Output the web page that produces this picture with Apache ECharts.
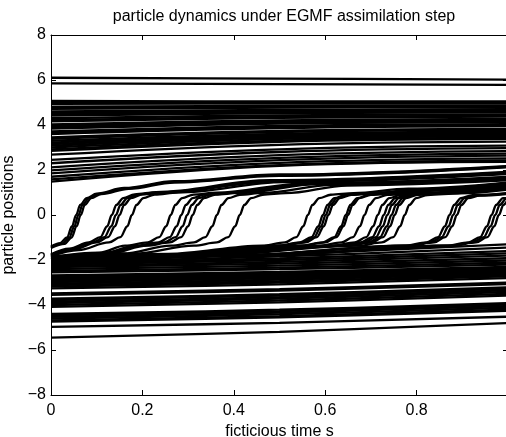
<!DOCTYPE html>
<html>
<head>
<meta charset="utf-8">
<script src="https://cdn.jsdelivr.net/npm/echarts@6/dist/echarts.min.js"></script>
<style>
html,body{margin:0;padding:0;background:#fff;}
#c{width:506px;height:437px;}
</style>
</head>
<body>
<div id="c"></div>
<script>
// ---- data ----
const titleText = 'particle dynamics under EGMF assimilation step';
const xName = 'ficticious time s';
const yName = 'particle positions';
const xTicks = [0, 0.2, 0.4, 0.6, 0.8];
const yTicks = [-8, -6, -4, -2, 0, 2, 4, 6, 8];

// times at which the slowly moving particles are sampled
const slowTimes = [0, 0.5, 1];

// top isolated particles [y(0), y(0.5), y(1)]
const topLines = [
  [6.10, 6.06, 6.02],
  [5.85, 5.82, 5.78]
];

// upper dense band [y(0), y(0.5), y(1)]
const upperBand = [
  [5.07,5.05,5.05],[5.00,5.00,5.00],[4.94,4.95,4.95],[4.82,4.85,4.86],
  [4.76,4.80,4.82],[4.72,4.77,4.79],[4.60,4.67,4.70],[4.55,4.63,4.66],
  [4.48,4.57,4.61],[4.42,4.52,4.56],[4.30,4.43,4.47],[4.22,4.36,4.41],
  [4.16,4.32,4.37],[4.03,4.21,4.27],[3.96,4.16,4.22],[3.90,4.10,4.17],
  [3.84,4.06,4.13],[3.72,3.96,4.04],[3.66,3.91,3.99],[3.60,3.86,3.95],
  [3.45,3.74,3.83],[3.38,3.68,3.78],[3.30,3.61,3.72],[3.22,3.55,3.66],
  [3.15,3.50,3.61],[3.08,3.44,3.56],[3.00,3.38,3.50],[2.92,3.31,3.44],
  [2.85,3.25,3.38],[2.68,3.12,3.26],[2.45,2.92,3.08],[2.30,2.80,2.97],
  [2.12,2.66,2.84],[1.98,2.54,2.73],[1.85,2.44,2.64],[1.70,2.32,2.52],
  [1.58,2.22,2.43],[1.48,2.18,2.36]
];

// lower band [y(0), y(0.5), y(1)]
const lowerBand = [
  [-2.05,-1.75,-1.30],[-2.10,-1.84,-1.45],[-2.15,-1.93,-1.60],[-2.20,-2.00,-1.70],
  [-2.26,-2.08,-1.80],[-2.32,-2.16,-1.92],[-2.40,-2.25,-2.02],[-2.48,-2.34,-2.12],
  [-2.55,-2.41,-2.20],[-2.68,-2.53,-2.30],[-2.74,-2.59,-2.36],[-2.80,-2.65,-2.42],
  [-2.86,-2.70,-2.46],[-2.92,-2.75,-2.50],[-2.98,-2.81,-2.55],[-3.05,-2.87,-2.60],
  [-3.12,-2.94,-2.66],[-3.18,-3.00,-2.72],[-3.26,-3.08,-2.80],[-3.48,-3.29,-3.00],
  [-3.55,-3.36,-3.07],[-3.72,-3.52,-3.22],[-3.78,-3.58,-3.28],[-3.85,-3.65,-3.35],
  [-3.92,-3.72,-3.42],[-4.00,-3.80,-3.50],[-4.08,-3.88,-3.58],[-4.40,-4.21,-3.92],
  [-4.46,-4.27,-3.98],[-4.53,-4.34,-4.05],[-4.60,-4.41,-4.12],[-4.68,-4.49,-4.20],
  [-4.74,-4.55,-4.26],[-4.97,-4.79,-4.52],[-5.45,-5.19,-4.80]
];

// particles that jump from the lower to the upper region: [t, y] points
const jumpCurves = [
  [[0,-1.40],[0.02,-1.25],[0.035,-1.0],[0.046,-0.5],[0.055,0],[0.064,0.45],[0.078,0.75],[0.1,0.95],[0.16,1.2],[0.27,1.5],[0.5,1.8],[1,2.18]],
  [[0,-1.44],[0.025,-1.27],[0.04,-1.0],[0.051,-0.5],[0.06,0],[0.069,0.45],[0.083,0.75],[0.105,0.94],[0.165,1.18],[0.27,1.47],[0.5,1.77],[1,2.15]],
  [[0,-1.47],[0.03,-1.28],[0.045,-1.0],[0.056,-0.5],[0.065,0],[0.074,0.45],[0.088,0.75],[0.11,0.93],[0.17,1.16],[0.27,1.44],[0.5,1.74],[1,2.12]],
  [[0,-1.75],[0.04,-1.5],[0.083,-1.22],[0.108,-0.98],[0.123,-0.5],[0.133,0],[0.143,0.45],[0.158,0.75],[0.183,0.92],[0.23,1.02],[0.48,1.55],[1,1.92]],
  [[0,-1.78],[0.045,-1.52],[0.092,-1.22],[0.117,-0.98],[0.132,-0.5],[0.142,0],[0.152,0.45],[0.167,0.75],[0.192,0.92],[0.24,1.01],[0.49,1.52],[1,1.89]],
  [[0,-1.80],[0.05,-1.53],[0.1,-1.22],[0.125,-0.98],[0.14,-0.5],[0.15,0],[0.16,0.45],[0.175,0.75],[0.2,0.92],[0.25,1.0],[0.49,1.5],[1,1.86]],
  [[0,-1.84],[0.06,-1.56],[0.127,-1.22],[0.152,-0.98],[0.167,-0.5],[0.177,0],[0.187,0.45],[0.202,0.75],[0.227,0.91],[0.277,1.0],[0.51,1.46],[1,1.82]],
  [[0,-1.86],[0.106,-1.67],[0.162,-1.36],[0.212,-1.22],[0.237,-0.98],[0.252,-0.5],[0.262,0],[0.272,0.45],[0.287,0.75],[0.312,0.91],[0.362,0.99],[0.557,1.41],[1,1.70]],
  [[0,-1.88],[0.118,-1.68],[0.185,-1.36],[0.235,-1.22],[0.26,-0.98],[0.275,-0.5],[0.285,0],[0.295,0.45],[0.31,0.75],[0.335,0.91],[0.385,0.98],[0.571,1.39],[1,1.67]],
  [[0,-1.89],[0.124,-1.69],[0.198,-1.36],[0.248,-1.22],[0.273,-0.98],[0.288,-0.5],[0.298,0],[0.308,0.45],[0.323,0.75],[0.348,0.91],[0.398,0.98],[0.579,1.38],[1,1.65]],
  [[0,-1.90],[0.13,-1.70],[0.21,-1.36],[0.26,-1.22],[0.285,-0.98],[0.30,-0.5],[0.31,0],[0.32,0.45],[0.335,0.75],[0.36,0.91],[0.41,0.98],[0.586,1.37],[1,1.63]],
  [[0,-1.92],[0.157,-1.71],[0.263,-1.36],[0.313,-1.22],[0.338,-0.98],[0.353,-0.5],[0.363,0],[0.373,0.45],[0.388,0.75],[0.413,0.9],[0.463,0.98],[0.618,1.34],[1,1.58]],
  [[0,-1.93],[0.182,-1.72],[0.313,-1.36],[0.363,-1.22],[0.388,-0.98],[0.403,-0.5],[0.413,0],[0.423,0.45],[0.438,0.75],[0.463,0.9],[0.513,0.97],[0.648,1.31],[1,1.54]],
  [[0,-1.95],[0.256,-1.73],[0.462,-1.36],[0.512,-1.22],[0.537,-0.98],[0.552,-0.5],[0.562,0],[0.572,0.45],[0.587,0.75],[0.612,0.9],[0.662,0.97],[0.782,1.17],[1,1.45]],
  [[0,-1.96],[0.273,-1.74],[0.495,-1.36],[0.545,-1.22],[0.57,-0.98],[0.585,-0.5],[0.595,0],[0.605,0.45],[0.62,0.75],[0.645,0.9],[0.695,0.96],[0.815,1.15],[1,1.42]],
  [[0,-1.96],[0.276,-1.74],[0.501,-1.36],[0.551,-1.22],[0.576,-0.98],[0.591,-0.5],[0.601,0],[0.611,0.45],[0.626,0.75],[0.651,0.9],[0.701,0.96],[0.821,1.14],[1,1.40]],
  [[0,-1.97],[0.279,-1.74],[0.507,-1.36],[0.557,-1.22],[0.582,-0.98],[0.597,-0.5],[0.607,0],[0.617,0.45],[0.632,0.75],[0.657,0.9],[0.707,0.96],[0.827,1.13],[1,1.38]],
  [[0,-1.97],[0.298,-1.74],[0.545,-1.36],[0.595,-1.22],[0.62,-0.98],[0.635,-0.5],[0.645,0],[0.655,0.45],[0.67,0.75],[0.695,0.9],[0.745,0.96],[0.865,1.13],[1,1.35]],
  [[0,-1.98],[0.30,-1.75],[0.55,-1.36],[0.60,-1.22],[0.625,-0.98],[0.64,-0.5],[0.65,0],[0.66,0.45],[0.675,0.75],[0.70,0.9],[0.75,0.96],[0.87,1.12],[1,1.33]],
  [[0,-1.98],[0.318,-1.75],[0.586,-1.36],[0.636,-1.22],[0.661,-0.98],[0.676,-0.5],[0.686,0],[0.696,0.45],[0.711,0.75],[0.736,0.9],[0.806,0.99],[1,1.28]],
  [[0,-1.99],[0.333,-1.76],[0.615,-1.36],[0.665,-1.22],[0.69,-0.98],[0.705,-0.5],[0.715,0],[0.725,0.45],[0.74,0.75],[0.765,0.9],[0.835,0.98],[1,1.25]],
  [[0,-1.99],[0.339,-1.76],[0.628,-1.36],[0.678,-1.22],[0.703,-0.98],[0.718,-0.5],[0.728,0],[0.738,0.45],[0.753,0.75],[0.778,0.9],[0.848,0.98],[1,1.23]],
  [[0,-2.00],[0.343,-1.77],[0.636,-1.36],[0.686,-1.22],[0.711,-0.98],[0.726,-0.5],[0.736,0],[0.746,0.45],[0.761,0.75],[0.786,0.9],[0.856,0.97],[1,1.21]],
  [[0,-2.00],[0.348,-1.77],[0.645,-1.36],[0.695,-1.22],[0.72,-0.98],[0.735,-0.5],[0.745,0],[0.755,0.45],[0.77,0.75],[0.795,0.9],[0.865,0.97],[1,1.19]],
  [[0,-2.00],[0.351,-1.77],[0.652,-1.36],[0.702,-1.22],[0.727,-0.98],[0.742,-0.5],[0.752,0],[0.762,0.45],[0.777,0.75],[0.802,0.9],[0.872,0.97],[1,1.17]],
  [[0,-2.01],[0.362,-1.77],[0.674,-1.36],[0.724,-1.22],[0.749,-0.98],[0.764,-0.5],[0.774,0],[0.784,0.45],[0.799,0.75],[0.824,0.89],[0.894,0.96],[1,1.13]],
  [[0,-2.02],[0.411,-1.78],[0.772,-1.36],[0.822,-1.22],[0.847,-0.98],[0.862,-0.5],[0.872,0],[0.882,0.45],[0.897,0.75],[0.922,0.88],[1,0.98]],
  [[0,-2.02],[0.415,-1.78],[0.78,-1.36],[0.83,-1.22],[0.855,-0.98],[0.87,-0.5],[0.88,0],[0.89,0.45],[0.905,0.75],[0.93,0.87],[1,0.96]],
  [[0,-2.03],[0.419,-1.79],[0.788,-1.36],[0.838,-1.22],[0.863,-0.98],[0.878,-0.5],[0.888,0],[0.898,0.45],[0.913,0.75],[0.938,0.86],[1,0.94]],
  [[0,-2.03],[0.457,-1.79],[0.864,-1.36],[0.914,-1.22],[0.939,-0.98],[0.954,-0.5],[0.964,0],[0.974,0.45],[0.989,0.75],[1.014,0.88]],
  [[0,-2.04],[0.461,-1.79],[0.872,-1.36],[0.922,-1.22],[0.947,-0.98],[0.962,-0.5],[0.972,0],[0.982,0.45],[0.997,0.75],[1.022,0.88]],
  [[0,-2.04],[0.465,-1.79],[0.88,-1.36],[0.93,-1.22],[0.955,-0.98],[0.97,-0.5],[0.98,0],[0.99,0.45],[1.005,0.75],[1.03,0.88]]
];

// ---- chart ----
const FONT = '"Liberation Sans", Arial, Helvetica, sans-serif';
const chart = echarts.init(document.getElementById('c'), null, {renderer: 'canvas'});

const lineStyle = {color: '#000', width: 2.3};
const series = [];
function addSlow(arr) {
  arr.forEach(vals => {
    series.push({
      type: 'line', showSymbol: false, symbol: 'none', smooth: 0.4,
      lineStyle: lineStyle, silent: true, animation: false,
      data: slowTimes.map((t, i) => [t, vals[i]])
    });
  });
}
addSlow(topLines);
addSlow(upperBand);
addSlow(lowerBand);
jumpCurves.forEach(pts => {
  series.push({
    type: 'line', showSymbol: false, symbol: 'none', smooth: 0.35, smoothMonotone: 'x',
    lineStyle: lineStyle, silent: true, animation: false,
    data: pts
  });
});

function axisCommon() {
  return {
    axisLine: {show: true, onZero: false, lineStyle: {color: '#000', width: 1}},
    axisTick: {show: true, inside: true, length: 5, lineStyle: {color: '#000', width: 1}},
    splitLine: {show: false}
  };
}
const minus = v => String(v).replace('-', '\u2212');

chart.setOption({
  animation: false,
  backgroundColor: '#fff',
  title: {
    text: titleText, left: 279, textAlign: 'center', top: 4,
    textStyle: {fontFamily: FONT, fontSize: 16, fontWeight: 'normal', color: '#000'}
  },
  grid: {left: 51, top: 35, bottom: 42, right: -2, containLabel: false, outerBoundsMode: 'none'},
  xAxis: [
    Object.assign({
      type: 'value', min: 0, max: 1, interval: 0.2, position: 'bottom',
      name: xName, nameLocation: 'middle', nameGap: 25,
      nameTextStyle: {fontFamily: FONT, fontSize: 16, color: '#000'},
      axisLabel: {
        fontFamily: FONT, fontSize: 16, color: '#000', margin: 8, showMaxLabel: false,
        formatter: v => xTicks.some(t => Math.abs(t - v) < 1e-9) ? String(+v.toFixed(1)) : ''
      }
    }, axisCommon()),
    Object.assign({
      type: 'value', min: 0, max: 1, interval: 0.2, position: 'top',
      axisLabel: {show: false}
    }, axisCommon())
  ],
  yAxis: [
    Object.assign({
      type: 'value', min: -8, max: 8, interval: 2, position: 'left',
      name: yName, nameLocation: 'middle', nameGap: 28,
      nameTextStyle: {fontFamily: FONT, fontSize: 16, color: '#000'},
      axisLabel: {
        fontFamily: FONT, fontSize: 16, color: '#000', margin: 5,
        formatter: v => yTicks.includes(v) ? minus(v) : ''
      }
    }, axisCommon()),
    Object.assign({
      type: 'value', min: -8, max: 8, interval: 2, position: 'right',
      axisLabel: {show: false}
    }, axisCommon())
  ],
  series: series
});
</script>
</body>
</html>
